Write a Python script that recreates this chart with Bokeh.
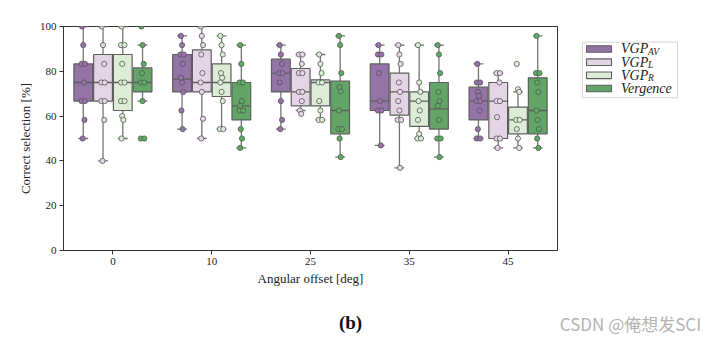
from bokeh.plotting import figure
from bokeh.models import ColumnDataSource, FixedTicker, Range1d
from bokeh.layouts import column, row
from bokeh.core.properties import value
from bokeh.embed import file_html
from bokeh.resources import INLINE

# ---------------- data ----------------
groups = ["0", "10", "25", "35", "45"]
series = ["VGP_AV", "VGP_L", "VGP_R", "Vergence"]
legend_main = ["VGP", "VGP", "VGP", "Vergence"]
legend_sub = ["AV", "L", "R", ""]

q1_av = [66.7, 70.8, 70.8, 62.5, 58.3]
med_av = [75.0, 76.5, 79.2, 66.7, 66.7]
q3_av = [83.3, 87.5, 85.4, 83.3, 72.9]
lo_av = [50.0, 54.2, 54.2, 46.9, 50.0]
hi_av = [100.0, 95.8, 91.7, 91.7, 83.3]

q1_l = [66.7, 70.8, 64.6, 60.4, 50.0]
med_l = [75.0, 75.0, 70.8, 70.8, 66.7]
q3_l = [87.5, 89.6, 81.25, 79.2, 75.0]
lo_l = [40.0, 50.0, 62.5, 36.9, 45.8]
hi_l = [100.0, 100.0, 87.5, 91.7, 79.2]

q1_r = [62.5, 68.75, 64.6, 55.4, 52.1]
med_r = [75.0, 75.0, 75.0, 66.7, 58.3]
q3_r = [87.5, 83.3, 76.2, 70.8, 64.0]
lo_r = [50.0, 54.2, 58.3, 50.0, 45.8]
hi_r = [100.0, 95.8, 87.5, 91.7, 70.8]

q1_v = [70.8, 58.3, 52.1, 54.2, 52.1]
med_v = [75.0, 64.6, 62.5, 63.2, 62.5]
q3_v = [81.5, 75.0, 75.6, 75.0, 77.1]
lo_v = [66.7, 45.8, 41.7, 41.7, 45.8]
hi_v = [91.7, 91.7, 95.8, 91.7, 95.8]

pts_av = [
    [100, 91.7, 83.3, 83.3, 75, 66.7, 66.7, 58.3, 50],
    [95.8, 91.7, 87.5, 87.5, 83.3, 77.1, 75, 70.8, 62.5, 54.2],
    [91.7, 87.5, 83.3, 79.2, 79.2, 75, 66.7, 58.3, 54.2],
    [91.7, 87.5, 87.5, 79.2, 66.7, 62.5, 62.5, 46.9],
    [83.3, 75, 75, 70.8, 69, 66.7, 66.7, 62.5, 54.2, 50, 50],
]
pts_l = [
    [100, 91.7, 83.3, 75, 75, 66.7, 66.7, 58.3, 40],
    [100, 95.8, 91.7, 87.5, 79.2, 75, 70.8, 58.8, 50],
    [87.5, 87.5, 83.3, 79.2, 79.2, 70.8, 70.8, 66.7, 62.5, 61],
    [91.7, 87.5, 83.3, 75, 70.8, 66.7, 62.5, 58.3, 58.3, 36.9],
    [79.2, 79.2, 75, 66.7, 66.7, 59.5, 50, 50, 45.8],
]
pts_r = [
    [100, 91.7, 91.7, 83.3, 75, 75, 66.7, 66.7, 60, 58.3, 50],
    [95.8, 91.7, 87.5, 79.2, 77.1, 75, 70.8, 66.7, 54.2, 54.2],
    [87.5, 83.3, 79.2, 75, 75, 66.7, 62.5, 58.3, 58.3],
    [91.7, 75, 70.8, 66.7, 62.5, 58.3, 52, 50, 50],
    [83.3, 72, 70.8, 58.3, 58.3, 54.2, 50, 45.8],
]
pts_v = [
    [100, 91.7, 83.3, 79.2, 75, 75, 66.7, 50, 50],
    [91.7, 83.3, 75, 75, 66.7, 64.6, 62.5, 62.5, 54.2, 50, 45.8],
    [95.8, 91.7, 79.2, 72.9, 71, 62.5, 54.2, 54.2, 50, 41.7],
    [91.7, 87.5, 79.2, 70.8, 66.7, 64.6, 58.3, 50, 50, 41.7],
    [95.8, 79.2, 79.2, 75, 70.8, 62.5, 58.3, 54.2, 50, 45.8],
]

stats = [
    (q1_av, med_av, q3_av, lo_av, hi_av, pts_av),
    (q1_l, med_l, q3_l, lo_l, hi_l, pts_l),
    (q1_r, med_r, q3_r, lo_r, hi_r, pts_r),
    (q1_v, med_v, q3_v, lo_v, hi_v, pts_v),
]

# ---------------- style ----------------
box_colors = ["#9473a6", "#e4d5e6", "#dcecd7", "#63a567"]
pt_colors = ["#9970ab", "#e7d4e8", "#d9f0d3", "#5aae61"]
edge = "#5e5e5e"
whisk = "#747474"
offsets = [-0.3, -0.1, 0.1, 0.3]
box_w = 0.19
cap_half = 0.05
serif = "Liberation Serif"


def blank_fig(w, h, x0, x1, y0, y1):
    f = figure(width=w, height=h, x_range=Range1d(x0, x1), y_range=Range1d(y0, y1),
               output_backend="svg", toolbar_location=None,
               min_border=0, min_border_left=0, min_border_right=0,
               min_border_top=0, min_border_bottom=0)
    f.axis.visible = False
    f.grid.visible = False
    f.outline_line_color = None
    f.background_fill_color = "white"
    f.border_fill_color = "white"
    return f


# ---------------- main plot ----------------
p = figure(width=570, height=294, x_range=(-0.5, 4.5), y_range=(0, 100),
           output_backend="svg", toolbar_location=None,
           min_border_left=63, min_border_right=13, min_border_top=20,
           min_border_bottom=50)
p.xgrid.visible = False
p.ygrid.visible = False
p.outline_line_color = "#333333"
p.outline_line_width = 1
p.background_fill_color = "white"
p.border_fill_color = "white"

for si, (q1, med, q3, lo, hi, pts) in enumerate(stats):
    xs = [gi + offsets[si] for gi in range(len(groups))]
    src = ColumnDataSource(dict(
        x=xs, q1=q1, med=med, q3=q3, lo=lo, hi=hi,
        xl=[x - box_w / 2 for x in xs], xr=[x + box_w / 2 for x in xs],
        cl=[x - cap_half for x in xs], cr=[x + cap_half for x in xs],
    ))
    p.segment(x0="x", y0="q3", x1="x", y1="hi", source=src, line_color=whisk, line_width=1.3)
    p.segment(x0="x", y0="q1", x1="x", y1="lo", source=src, line_color=whisk, line_width=1.3)
    p.segment(x0="cl", y0="hi", x1="cr", y1="hi", source=src, line_color=whisk, line_width=1.3)
    p.segment(x0="cl", y0="lo", x1="cr", y1="lo", source=src, line_color=whisk, line_width=1.3)
    p.vbar(x="x", width=box_w, top="q3", bottom="q1", source=src,
           fill_color=box_colors[si], line_color=edge, line_width=1.2)
    p.segment(x0="xl", y0="med", x1="xr", y1="med", source=src, line_color=edge, line_width=1.3)

for si, (q1, med, q3, lo, hi, pts) in enumerate(stats):
    px, py = [], []
    for gi, vals in enumerate(pts):
        cx = gi + offsets[si]
        for i, v in enumerate(vals):
            same = [j for j, w in enumerate(vals) if w == v]
            n = len(same)
            k = same.index(i)
            if n > 1:
                dx = (k - (n - 1) / 2) * 0.035
            else:
                dx = (((i * 7) % 5) - 2) * 0.006
            px.append(cx + dx)
            py.append(v)
    p.scatter(px, py, size=5.2, fill_color=pt_colors[si], line_color="#555555", line_width=0.8)

p.xaxis.ticker = FixedTicker(ticks=list(range(len(groups))))
p.xaxis.major_label_overrides = {i: g for i, g in enumerate(groups)}
p.yaxis.ticker = FixedTicker(ticks=[0, 20, 40, 60, 80, 100])
for ax in (p.xaxis[0], p.yaxis[0]):
    ax.minor_tick_line_color = None
    ax.major_tick_in = 0
    ax.major_tick_out = 4
    ax.axis_line_color = "#333333"
    ax.major_tick_line_color = "#333333"
    ax.major_label_text_font = serif
    ax.major_label_text_font_size = "11px"
    ax.major_label_text_color = "#222222"
    ax.axis_label_text_font = serif
    ax.axis_label_text_font_size = "13px"
    ax.axis_label_text_font_style = "normal"
    ax.axis_label_text_color = "#222222"
p.xaxis.axis_label = "Angular offset [deg]"
p.yaxis.axis_label = "Correct selection [%]"
p.xaxis.major_label_standoff = 3
p.yaxis.major_label_standoff = 3
p.xaxis.axis_label_standoff = 3
p.yaxis.axis_label_standoff = 4

# ---------------- legend panel (right) ----------------
lg = blank_fig(139, 294, 0, 139, 294, 0)
n_items = len(series)
row_c = [29.5 + i * 17.3 for i in range(n_items)]
lg.quad(left=[12], right=[107], top=[20.5], bottom=[93.5], fill_color="white",
        line_color="#d6d6d6", line_width=1)
lg.quad(left=[16] * n_items, right=[41] * n_items,
        top=[c - 4.3 for c in row_c], bottom=[c + 4.3 for c in row_c],
        fill_color=box_colors, line_color=edge, line_width=1.1)
lg.text(x=[50.5] * n_items, y=row_c, text=legend_main, text_font=value(serif),
        text_font_style="italic", text_font_size="14px", text_color="#222222",
        text_baseline="middle", text_align="left")
lg.text(x=[77.5] * 3, y=[c + 4 for c in row_c[:3]], text=legend_sub[:3], text_font=value(serif),
        text_font_style="italic", text_font_size="9.5px", text_color="#222222",
        text_baseline="middle", text_align="left")

# ---------------- top strip with clipped "(a)" ----------------
top = blank_fig(709, 6, 0, 709, 6, 0)
top.text(x=[350], y=[-4], text=["(a)"], text_font=value(serif), text_font_style="bold",
         text_font_size="19px", text_align="center", text_baseline="middle", text_color="#111111")

# ---------------- bottom captions ----------------
cap = blank_fig(709, 43, 0, 709, 343, 300)
cap.text(x=[350], y=[322], text=["(b)"], text_font=value(serif), text_font_style="bold",
         text_font_size="19px", text_align="center", text_baseline="middle", text_color="#111111")
cap.text(x=[630], y=[323], text=["CSDN @俺想发SCI"], text_font=value("Noto Sans CJK SC"),
         text_font_size="17px", text_align="center", text_baseline="middle", text_color="#b3b3b3")

layout = column(top, row(p, lg), cap)
open("out.html", "w").write(file_html(layout, INLINE))
